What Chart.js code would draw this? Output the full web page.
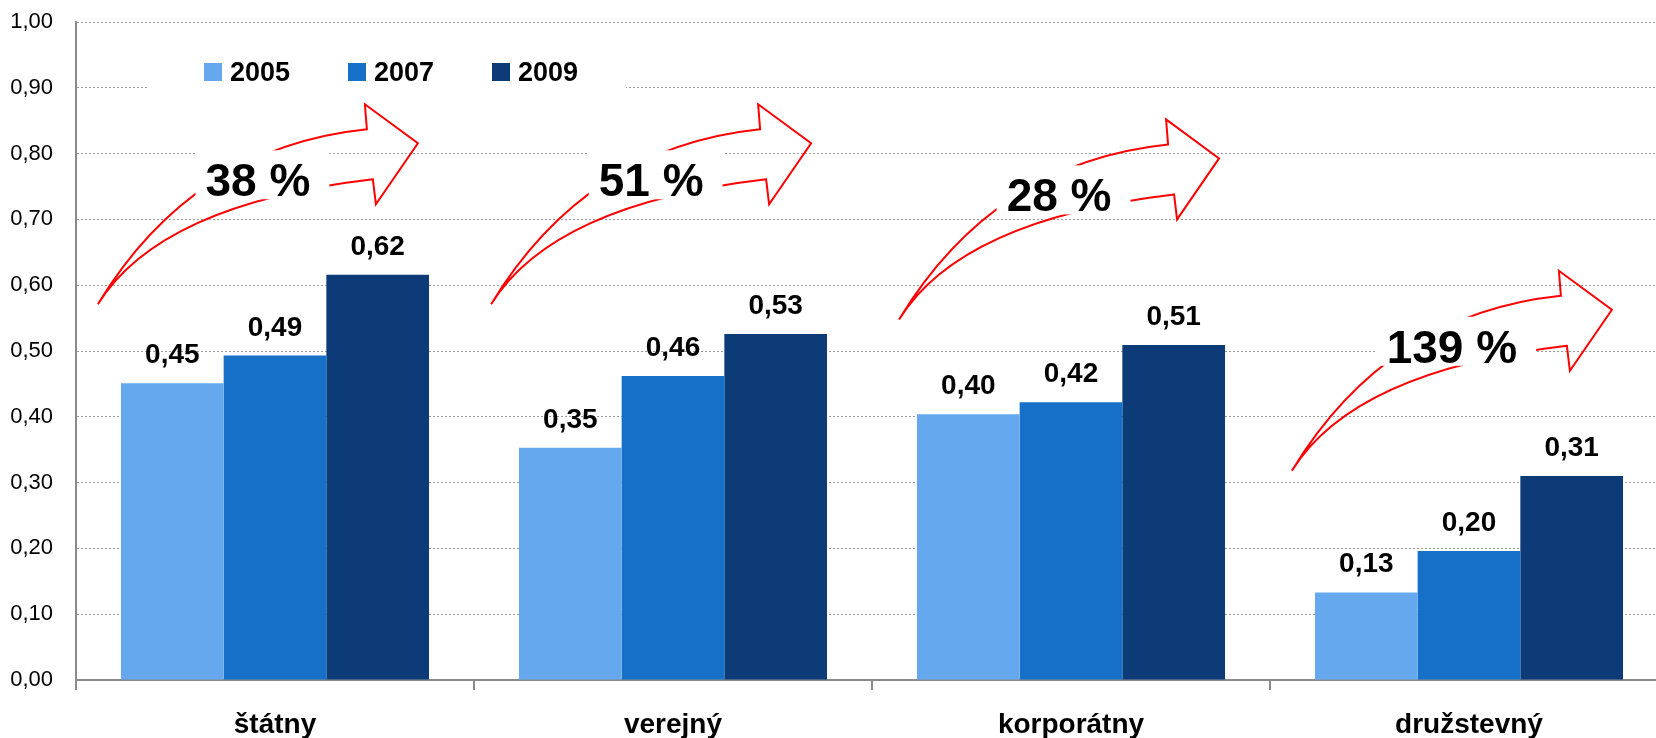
<!DOCTYPE html>
<html>
<head>
<meta charset="utf-8">
<script src="https://cdn.jsdelivr.net/npm/chart.js@4.4.1/dist/chart.umd.min.js"></script>
<style>
  html, body { margin: 0; padding: 0; background: #fff; overflow: hidden; }
  #wrap { width: 1668px; height: 738px; }
</style>
</head>
<body>
<div id="wrap"><canvas id="chart" width="1668" height="738"></canvas></div>
<script>
var categories = ["štátny", "verejný", "korporátny", "družstevný"];
var years = ["2005", "2007", "2009"];
var values2005 = [0.451, 0.353, 0.404, 0.133];
var values2007 = [0.493, 0.462, 0.422, 0.196];
var values2009 = [0.616, 0.526, 0.509, 0.310];
var growthLabels = ["38 %", "51 %", "28 %", "139 %"];
var yTickValues = [0, 0.1, 0.2, 0.3, 0.4, 0.5, 0.6, 0.7, 0.8, 0.9, 1.0];

var FONT = '"Liberation Sans", Arial, sans-serif';
var barColors = ["#65a8ee", "#1670c8", "#0c3b78"];

// where each growth arrow starts: offset from category centre (in category widths) and y value
var arrowPlacement = [
  { dx: -0.445, y: 0.571 },
  { dx: -0.457, y: 0.571 },
  { dx: -0.432, y: 0.548 },
  { dx: -0.445, y: 0.318 }
];

function fmt(v) {
  return v.toFixed(2).replace(".", ",");
}

var barLabels = {
  id: "barLabels",
  afterDatasetsDraw: function (chart) {
    var ctx = chart.ctx;
    ctx.save();
    ctx.font = "bold 28px " + FONT;
    ctx.fillStyle = "#000";
    ctx.textAlign = "center";
    ctx.textBaseline = "alphabetic";
    chart.data.datasets.forEach(function (ds, i) {
      var meta = chart.getDatasetMeta(i);
      meta.data.forEach(function (bar, j) {
        ctx.fillText(fmt(ds.data[j]), bar.x, bar.y - 20);
      });
    });
    ctx.restore();
  }
};

var legendBox = {
  id: "legendBox",
  afterDraw: function (chart) {
    var ctx = chart.ctx;
    var area = chart.chartArea;
    var left = area.left + 128;
    var top = area.top + 41;
    ctx.save();
    ctx.fillStyle = "#fff";
    ctx.fillRect(left - 57, top - 18, 479, 56);
    ctx.font = "bold 27px " + FONT;
    ctx.textAlign = "left";
    ctx.textBaseline = "alphabetic";
    chart.data.datasets.forEach(function (ds, i) {
      var x = left + i * 144;
      ctx.fillStyle = ds.backgroundColor;
      ctx.fillRect(x, top, 18, 18);
      ctx.fillStyle = "#000";
      ctx.fillText(ds.label, x + 26, top + 18);
    });
    ctx.restore();
  }
};

var growthArrows = {
  id: "growthArrows",
  afterDraw: function (chart) {
    var ctx = chart.ctx;
    var xs = chart.scales.x;
    var ys = chart.scales.y;
    var catW = xs.width / categories.length;
    ctx.save();
    for (var i = 0; i < arrowPlacement.length; i++) {
      var p = arrowPlacement[i];
      var tx = xs.getPixelForValue(i) + p.dx * catW;
      var ty = ys.getPixelForValue(p.y);
      ctx.beginPath();
      ctx.moveTo(tx, ty);
      ctx.quadraticCurveTo(tx + 95, ty - 157, tx + 269, ty - 175);
      ctx.lineTo(tx + 267, ty - 200);
      ctx.lineTo(tx + 320, ty - 161);
      ctx.lineTo(tx + 278, ty - 100);
      ctx.lineTo(tx + 275, ty - 125);
      ctx.quadraticCurveTo(tx + 62, ty - 100, tx, ty);
      ctx.closePath();
      ctx.lineWidth = 2;
      ctx.strokeStyle = "#ff0000";
      ctx.lineJoin = "miter";
      ctx.stroke();

      var cx = tx + 160;
      var cy = ty - 124.5;
      ctx.font = "bold 46px " + FONT;
      var w = ctx.measureText(growthLabels[i]).width;
      ctx.fillStyle = "#fff";
      ctx.fillRect(cx - w / 2 - 10, cy - 29.5, w + 29, 49);
      ctx.fillStyle = "#000";
      ctx.textAlign = "center";
      ctx.textBaseline = "alphabetic";
      ctx.fillText(growthLabels[i], cx, cy + 16.5);
    }
    ctx.restore();
  }
};

var datasets = [values2005, values2007, values2009].map(function (vals, i) {
  return {
    label: years[i],
    data: vals,
    backgroundColor: barColors[i],
    borderWidth: 0,
    barPercentage: 1.0,
    categoryPercentage: 0.774
  };
});

new Chart(document.getElementById("chart"), {
  type: "bar",
  data: { labels: categories, datasets: datasets },
  options: {
    responsive: false,
    animation: false,
    layout: { padding: { top: 22, right: 0, left: 0, bottom: 0 } },
    plugins: { legend: { display: false }, tooltip: { enabled: false } },
    scales: {
      x: {
        grid: {
          display: true,
          drawOnChartArea: false,
          drawTicks: true,
          tickLength: 10,
          color: "#8a8a8a",
          lineWidth: 2,
          offset: true
        },
        border: { display: true, color: "#8a8a8a", width: 2 },
        ticks: {
          color: "#000",
          font: { family: FONT, size: 28, weight: "bold" },
          padding: 18,
          maxRotation: 0
        },
        afterFit: function (s) { s.height = 58; }
      },
      y: {
        min: 0,
        max: 1,
        afterBuildTicks: function (s) {
          s.ticks = yTickValues.map(function (v) { return { value: v }; });
        },
        grid: { color: "#9a9a9a", lineWidth: 1, drawTicks: false },
        border: { display: true, color: "#8a8a8a", width: 2, dash: [2, 2] },
        ticks: {
          color: "#000",
          font: { family: FONT, size: 22 },
          padding: 23,
          callback: function (v) { return fmt(v); }
        },
        afterFit: function (s) {
          s.width = 76;
          s.paddingTop = 0;
          s.paddingBottom = 0;
        }
      }
    }
  },
  plugins: [barLabels, legendBox, growthArrows]
});
</script>
</body>
</html>
